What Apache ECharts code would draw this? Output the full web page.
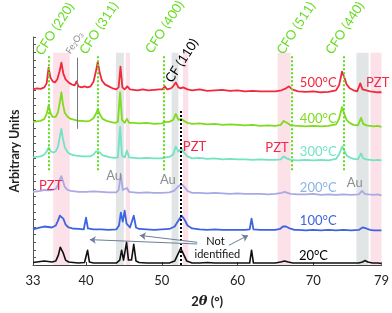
<!DOCTYPE html>
<html><head><meta charset="utf-8">
<script src="https://cdn.jsdelivr.net/npm/echarts@6/dist/echarts.min.js"></script>
<style>html,body{margin:0;padding:0;background:#fff}#c{width:392px;height:313px}</style>
</head><body><div id="c"></div>
<script>
// ---- data (2θ in degrees, intensity in arbitrary units incl. vertical offset) ----
var xTicks = [33, 40, 50, 60, 70, 79];
var t500 = [[33,178],[33.5,179],[34,178.5],[34.5,180],[34.8,184],[35.06,200],[35.3,190],[35.6,186],[35.9,185],[36.2,188],[36.5,196],[36.75,205],[37.0,194],[37.3,188],[37.7,185],[38.1,183],[38.5,182],[38.75,186],[39.0,181],[39.4,180],[39.8,181],[40.2,180],[40.6,181],[41.0,186],[41.3,196],[41.55,206],[41.8,195],[42.1,187],[42.5,183],[43.0,181],[43.5,179],[44.0,178],[44.3,180],[44.55,201],[44.8,180],[45.1,178],[45.45,181],[45.8,178],[46.3,177.5],[46.8,177],[47.5,178],[48.2,177],[49,177.5],[49.7,178],[50.1,178],[50.4,181],[50.7,178],[51.2,179],[51.5,181],[51.85,185],[52.2,180],[52.5,179],[52.8,180],[53.05,182],[53.4,178],[54,177],[55,178],[56,176.5],[57,177],[58,177.5],[59,176.5],[60,177],[61,176],[62,176.5],[63,176],[64,176],[65,176],[65.8,177],[66.4,179],[66.8,181],[67.2,178],[68,176],[69,175.5],[70,176],[71,175],[72,175.5],[73,177],[73.4,182],[73.8,196],[74.1,190],[74.4,183],[74.8,179],[75.3,177],[75.8,176],[76.2,184],[76.5,178],[77,177],[77.5,176],[78,175.5],[78.5,175],[79,175]];
var t400 = [[33,145],[33.5,145.5],[34,146],[34.5,148],[34.8,153],[35.06,162],[35.3,154],[35.6,150],[36.0,150],[36.3,155],[36.55,165],[36.75,175],[36.95,163],[37.2,154],[37.6,150],[38,148],[38.5,147],[39,146],[39.5,146],[40,145.5],[40.5,146],[41.0,149],[41.3,153],[41.55,158],[41.8,153],[42.2,148],[42.7,146],[43.2,145],[43.8,144],[44.2,145],[44.5,175],[44.75,147],[45.1,144],[45.4,148],[45.7,144],[46.3,144],[47,143.5],[48,144],[49,143],[50,143.5],[50.5,145],[51,145],[51.5,147],[51.85,153],[52.2,147],[52.6,148],[52.9,146],[53.4,144],[54,143],[55,143.5],[56,142.5],[57,143],[58,142],[59,142.5],[60,142],[61,141.5],[62,142],[63,141],[64,141.5],[65,141],[65.7,142],[66.1,146],[66.5,144],[67,141.5],[68,141],[69,140.5],[70,141],[71,140.5],[72,141],[73,142.5],[73.4,148],[73.8,160],[74.1,153],[74.4,147],[74.8,144],[75.3,142],[75.9,141.5],[76.3,149],[76.6,143],[77,141.5],[77.5,141],[78,140.5],[78.5,141],[79,140]];
var t300 = [[33,109],[33.5,109.5],[34,110],[34.5,112],[34.8,115],[35.06,119],[35.35,115],[35.7,114],[36.0,115],[36.3,120],[36.55,130],[36.75,138],[36.95,128],[37.2,119],[37.6,114],[38,112],[38.5,111],[39,110.5],[39.5,110],[40,110],[40.5,110],[41.0,112],[41.3,115],[41.55,117],[41.8,114],[42.2,111],[42.7,110],[43.2,109],[43.8,108.5],[44.2,109],[44.5,140],[44.75,111],[45.1,109],[45.4,116],[45.7,109],[46.3,108.5],[47,108],[48,108.5],[49,108],[50,108],[50.5,109],[51,109.5],[51.5,112],[51.85,120],[52.2,115],[52.6,118],[52.9,114],[53.4,110],[54,108],[55,108.5],[56,107.5],[57,108],[58,107],[59,107.5],[60,107],[61,107],[62,106.5],[63,107],[64,106.5],[65,106.5],[65.7,107],[66.1,110],[66.5,108],[67,106.5],[68,106],[69,106.5],[70,106],[71,106.5],[72,106],[73,107.5],[73.4,112],[73.8,120],[74.1,116],[74.4,111],[74.8,109],[75.3,107.5],[75.9,107],[76.3,113],[76.6,108],[77,107],[77.5,106.5],[78,106],[78.5,106.5],[79,106]];
var t200 = [[33,74],[33.5,74.5],[34,75],[34.5,76],[35,75.5],[35.5,76],[36,77],[36.3,81],[36.55,87],[36.75,90],[36.95,85],[37.2,79],[37.6,76],[38,75],[38.5,74.5],[39,74],[40,74],[41,74.5],[42,74],[43,73.5],[44,73.5],[44.3,76],[44.6,91],[44.85,76],[45.1,74],[45.4,78],[45.7,74],[46.3,73.5],[47,73],[48,73.5],[49,73],[50,73],[51,73.5],[51.6,75],[52.1,79],[52.6,82],[53.0,79],[53.4,75],[54,73],[55,73],[56,72.5],[57,73],[58,72.5],[59,72],[60,72.5],[61,72],[62,72],[63,72],[64,71.5],[65,72],[65.8,73],[66.2,74],[66.6,73],[67,72],[68,71.5],[69,71.5],[70,72],[71,71],[72,71.5],[73,71],[74,71.5],[75,71],[76,71.5],[76.45,75],[76.8,72],[77.3,71.5],[78,71],[78.5,71.5],[79,70.5]];
var t100 = [[33,36],[33.5,37],[34,38],[34.5,39],[35,38.5],[35.5,38],[36,40],[36.3,45],[36.55,50],[36.75,51],[37,47],[37.3,41],[37.7,38],[38.2,37],[39,36.5],[39.7,36],[40.0,48],[40.25,37],[41,36],[42,36],[43,35.5],[44,36],[44.35,40],[44.6,53],[44.85,44],[45.1,55],[45.35,42],[45.8,38],[46.3,50],[46.6,38],[47,36.5],[48,36],[49,35.5],[50,36],[51,36.5],[51.7,39],[52.2,45],[52.6,50],[53.0,46],[53.4,40],[54,37],[55,36],[56,35.5],[57,36],[58,35.5],[59,35.5],[60,35.5],[61,35.5],[61.6,36],[61.85,47],[62.1,36],[63,35.5],[64,35.5],[65,35.5],[65.6,36.5],[66,39],[66.4,39],[66.9,37],[67.5,35.5],[68,35.5],[69,35],[70,35.5],[71,35],[72,35.5],[73,35],[74,35.5],[75,35],[76,35.5],[76.5,38],[76.7,39],[77,37],[77.5,35.5],[78,35],[79,35]];
var t20 = [[33,2.5],[33.5,3],[34,3.5],[34.5,4],[35,3.5],[35.5,3],[36,4],[36.35,10],[36.6,18],[36.75,19],[37.0,12],[37.3,5],[37.7,3],[38.3,2.5],[39,2],[39.8,2.5],[40.2,15],[40.45,3],[41,2],[42,2],[43,2],[44,2],[44.45,5],[44.7,15],[44.95,5],[45.15,6],[45.35,23],[45.6,5],[46.0,5],[46.3,21],[46.6,4],[47,2.5],[48,2],[49,2],[50,2],[51,2],[51.7,4],[52.2,12],[52.5,17],[52.8,12],[53.3,4],[54,2],[55,2],[56,2.5],[57,2],[58,2],[59,2],[60,2],[61,2],[61.6,2],[61.85,15],[62.1,2],[63,2],[64,2],[65,2],[65.7,3],[66.2,4],[66.7,3],[67.3,2],[68,2],[69,2],[70,2],[71,2],[72,2],[73,2],[74,2],[75,2],[76,2],[76.5,3],[76.8,4.5],[77.2,3],[77.8,2],[78.5,2],[79,1.5]];

// reference bands (2θ ranges): PZT (pink) and Au (grey)
var pztBands = [[35.66,37.85],[45.25,45.8],[52.8,53.5],[65.3,67.0],[77.55,79]];
var auBands = [[43.95,45.0],[51.3,52.2],[75.7,77.3]];
var bandTop = 215;
// reference lines
var cfoLines = [35.06, 41.5, 50.3, 67.2, 74.0];
var cfoRange = [96, 213];
var cfLine = 52.5, cfRange = [0, 158];
var fe2o3Line = 38.8, fe2o3Range = [138, 210];

var colors = {t500:'#f2283c', t400:'#7edb1f', t300:'#72e3c3', t200:'#a9a9e6', t100:'#3d63e3', t20:'#111111'};

var chart = echarts.init(document.getElementById('c'), null, {renderer:'canvas'});

function lineSeries(name, data, color, w) {
  return {name:name, type:'line', data:data, showSymbol:false, symbol:'none', smooth:false,
    lineStyle:{color:color, width:w, join:'round'}, z:3, silent:true, animation:false};
}

var areas = [];
pztBands.forEach(function(b){ areas.push([{xAxis:b[0], yAxis:0, itemStyle:{color:'rgba(252,220,229,0.85)'}},{xAxis:b[1], yAxis:bandTop}]); });
auBands.forEach(function(b){ areas.push([{xAxis:b[0], yAxis:0, itemStyle:{color:'rgba(222,226,226,0.9)'}},{xAxis:b[1], yAxis:bandTop}]); });

var vlines = [];
cfoLines.forEach(function(x){ vlines.push([{coord:[x,cfoRange[0]], lineStyle:{color:'#5fdc1e', width:2, type:[2,2]}},{coord:[x,cfoRange[1]]}]); });
vlines.push([{coord:[cfLine,cfRange[0]], lineStyle:{color:'#000', width:2, type:[2,2]}},{coord:[cfLine,cfRange[1]]}]);
vlines.push([{coord:[fe2o3Line,fe2o3Range[0]], lineStyle:{color:'#777', width:1, type:'solid'}},{coord:[fe2o3Line,fe2o3Range[1]]}]);

var arrows = [
  [[54.68,21.3],[40.5,25.7]],
  [[54.68,23],[47.1,30]],
  [[58.86,20],[61.4,30]]
];

chart.setOption({
  animation:false,
  backgroundColor:'#fff',
  grid:{left:20, right:8, top:37, bottom:45, containLabel:false},
  xAxis:{type:'value', min:33, max:79,
    axisLine:{show:true, lineStyle:{color:'#444', width:1}},
    axisTick:{show:true, inside:true, length:3, customValues:xTicks, lineStyle:{color:'#444'}},
    axisLabel:{customValues:xTicks, color:'#222', fontSize:13, fontFamily:'Lato', margin:9},
    splitLine:{show:false},
    name:'{b|2}{i|θ}{b| (°)}', nameLocation:'middle', nameGap:30,
    nameTextStyle:{rich:{b:{fontSize:13, fontWeight:'bold', fontFamily:'Lato', color:'#222'}, i:{fontSize:13, fontWeight:'bold', fontStyle:'italic', fontFamily:'DejaVu Serif', color:'#222'}}}
  },
  yAxis:{type:'value', min:0, max:231, interval:7.7,
    axisLine:{show:true, lineStyle:{color:'#555', width:1}},
    axisTick:{show:true, inside:true, length:3, lineStyle:{color:'#555'}},
    axisLabel:{show:false}, splitLine:{show:false},
    name:'Arbitrary Units', nameLocation:'middle', nameGap:12,
    nameTextStyle:{fontSize:12.5, fontWeight:'bold', fontFamily:'Lato', color:'#222'}
  },
  series:[
    {type:'line', data:[[33,0]], symbol:'none', lineStyle:{opacity:0}, z:1, silent:true,
      markArea:{silent:true, data:areas},
      markLine:{silent:true, symbol:['none','none'], label:{show:false}, data:vlines}},
    {type:'line', data:[[33,0]], symbol:'none', lineStyle:{opacity:0}, z:4, silent:true,
      markLine:{silent:true, symbol:['none','arrow'], symbolSize:6, label:{show:false},
        lineStyle:{color:'#6d7f9a', width:1, type:'solid'},
        data:arrows.map(function(a){return [{coord:a[0]},{coord:a[1]}];})}},
    lineSeries('500°C', t500, colors.t500, 1.8),
    lineSeries('400°C', t400, colors.t400, 1.8),
    lineSeries('300°C', t300, colors.t300, 1.8),
    lineSeries('200°C', t200, colors.t200, 1.8),
    lineSeries('100°C', t100, colors.t100, 1.8),
    lineSeries('20°C', t20, colors.t20, 1.6)
  ]
});

// ---- annotations placed at data coordinates ----
var rotLabels = [
  {t:'CFO (220)', x:35.89, y:239, c:'#66dd22'},
  {t:'CFO (311)', x:41.71, y:240, c:'#66dd22'},
  {t:'CFO (400)', x:50.38, y:241, c:'#66dd22'},
  {t:'CFO (511)', x:67.72, y:240, c:'#66dd22'},
  {t:'CFO (440)', x:74.18, y:240, c:'#66dd22'},
  {t:'CF (110)', x:52.66, y:207, c:'#000000'}
];
var tempLabels = [
  {t:'500°C', x:68.23, y:185, c:colors.t500},
  {t:'400°C', x:68.23, y:148, c:colors.t400},
  {t:'300°C', x:68.23, y:115, c:colors.t300},
  {t:'200°C', x:68.23, y:78, c:'#8db4e6'},
  {t:'100°C', x:68.23, y:45, c:colors.t100},
  {t:'20°C', x:68.1, y:9, c:'#000000'}
];
var pztLabels = [[76.96,185],[52.78,120],[63.67,119],[33.8,80]];
var auLabels = [[42.66,90],[49.75,86],[74.43,83]];

var g = [];
function px(x,y){ return chart.convertToPixel({gridIndex:0}, [x,y]); }
var R = 57*Math.PI/180;
rotLabels.forEach(function(l){
  var p = px(l.x,l.y);
  g.push({type:'text', x:p[0], y:p[1], rotation:R, z:10, silent:true,
    style:{text:l.t, fill:l.c, font:'13px Lato', align:'center', verticalAlign:'middle'}});
});
(function(){
  var p = px(38.48,225);
  g.push({type:'text', x:p[0], y:p[1], rotation:R, z:10, silent:true,
    style:{text:'{a|Fe}{s|2}{a|O}{s|3}', align:'center', verticalAlign:'middle',
      rich:{a:{fontSize:9, fontFamily:'Lato', fill:'#8a8a8a'}, s:{fontSize:6, fontFamily:'Lato', fill:'#8a8a8a', verticalAlign:'bottom', padding:[4,0,0,0]}}}});
})();
tempLabels.forEach(function(l){
  var p = px(l.x,l.y);
  g.push({type:'text', x:p[0], y:p[1], z:10, silent:true,
    style:{text:l.t, fill:l.c, font:'13px Lato', align:'left', verticalAlign:'middle'}});
});
pztLabels.forEach(function(l){
  var p = px(l[0],l[1]);
  g.push({type:'text', x:p[0], y:p[1], z:10, silent:true,
    style:{text:'PZT', fill:'#f0284a', font:'13px Lato', align:'left', verticalAlign:'middle'}});
});
auLabels.forEach(function(l){
  var p = px(l[0],l[1]);
  g.push({type:'text', x:p[0], y:p[1], z:10, silent:true,
    style:{text:'Au', fill:'#8a9090', font:'13px Lato', align:'left', verticalAlign:'middle'}});
});
(function(){
  var p1 = px(57.09,24), p2 = px(57.34,11);
  g.push({type:'text', x:p1[0], y:p1[1], z:10, silent:true, style:{text:'Not', fill:'#111', font:'11px Lato', align:'center', verticalAlign:'middle'}});
  g.push({type:'text', x:p2[0], y:p2[1], z:10, silent:true, style:{text:'identified', fill:'#111', font:'11px Lato', align:'center', verticalAlign:'middle'}});
})();
chart.setOption({graphic:g});
</script></body></html>
